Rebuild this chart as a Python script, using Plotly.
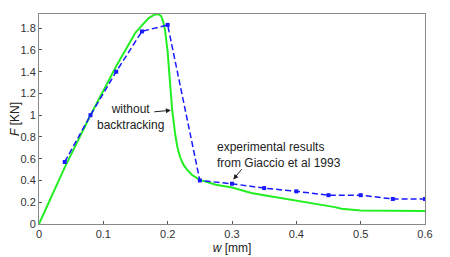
import plotly.graph_objects as go

# Experimental results (Giaccio et al 1993)
exp_w = [0.04, 0.08, 0.12, 0.16, 0.20, 0.25, 0.30, 0.35, 0.40, 0.45, 0.50, 0.55, 0.60]
exp_F = [0.57, 1.00, 1.40, 1.77, 1.83, 0.40, 0.37, 0.33, 0.30, 0.265, 0.265, 0.23, 0.23]

# Simulation without backtracking
sim_w = [0.0, 0.04, 0.08, 0.12, 0.15, 0.16, 0.17, 0.178, 0.185, 0.19, 0.193, 0.196,
         0.200, 0.203, 0.207, 0.2115, 0.215, 0.219, 0.224, 0.230, 0.238, 0.250,
         0.262, 0.275, 0.300, 0.330, 0.350, 0.400, 0.440, 0.450, 0.460, 0.470,
         0.485, 0.500, 0.600]
sim_F = [0.0, 0.52, 1.00, 1.45, 1.76, 1.83, 1.89, 1.92, 1.93, 1.91, 1.86, 1.78,
         1.58, 1.35, 1.05, 0.83, 0.71, 0.62, 0.55, 0.50, 0.45, 0.405,
         0.38, 0.36, 0.335, 0.285, 0.265, 0.215, 0.18, 0.17, 0.155, 0.14,
         0.13, 0.125, 0.12]

x_ticks = [0, 0.1, 0.2, 0.3, 0.4, 0.5, 0.6]
y_ticks = [0, 0.2, 0.4, 0.6, 0.8, 1.0, 1.2, 1.4, 1.6, 1.8]

fig = go.Figure()
fig.add_trace(go.Scatter(x=sim_w, y=sim_F, mode="lines", line=dict(color="#22ee22", width=2),
                         showlegend=False))
fig.add_trace(go.Scatter(x=exp_w, y=exp_F, mode="lines+markers",
                         line=dict(color="#1a1aff", width=1.5, dash="6px,3px"),
                         marker=dict(symbol="square", size=4, color="#1a1aff"),
                         showlegend=False))

font = dict(family="Liberation Sans, Arial, sans-serif", size=11, color="#333")
afont = dict(family="Liberation Sans, Arial, sans-serif", size=12, color="#222")

fig.add_annotation(x=0.205, y=1.045, ax=0.177, ay=1.03, axref="x", ayref="y",
                   text="", showarrow=True, arrowhead=2, arrowsize=1, arrowwidth=1, arrowcolor="#222")
fig.add_annotation(x=0.142, y=0.979, text="without<br>backtracking", showarrow=False, font=afont,
                   align="center", xanchor="center", yanchor="middle", borderpad=0)

fig.add_annotation(x=0.302, y=0.41, ax=0.317, ay=0.517, axref="x", ayref="y",
                   text="", showarrow=True, arrowhead=2, arrowsize=1, arrowwidth=1, arrowcolor="#222")
fig.add_annotation(x=0.2747, y=0.635, text="experimental results<br>from Giaccio et al 1993",
                   showarrow=False, font=afont, align="left", xanchor="left", yanchor="middle",
                   borderpad=0)

fig.update_layout(
    width=442, height=249,
    margin=dict(l=31, r=25, t=6, b=33),
    plot_bgcolor="white", paper_bgcolor="white",
    font=font,
    xaxis=dict(range=[0, 0.6], tickvals=x_ticks, ticktext=[str(v) for v in x_ticks],
               ticks="inside", ticklen=3, tickcolor="#555", showgrid=False, zeroline=False,
               showline=True, linecolor="#888", linewidth=1, mirror=True, automargin=False,
               title=dict(text="<i>w</i> [mm]", standoff=4, font=dict(size=12, color="#222"))),
    yaxis=dict(range=[0, 1.93], tickvals=y_ticks, ticktext=["0", "0.2", "0.4", "0.6", "0.8", "1", "1.2", "1.4", "1.6", "1.8"],
               ticks="inside", ticklen=3, tickcolor="#555", showgrid=False, zeroline=False,
               showline=True, linecolor="#888", linewidth=1, mirror=True, automargin=False,
               title=dict(text="<i>F</i> [KN]", standoff=4, font=dict(size=12, color="#222"))),
)

fig.write_html("out.html")
